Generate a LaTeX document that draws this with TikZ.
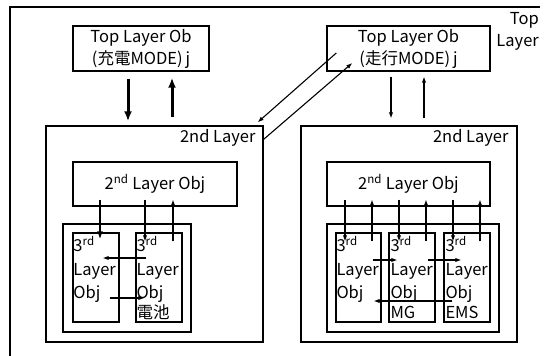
\documentclass[tikz,border=0pt]{standalone}
\usepackage{fontspec}
\setmainfont{Noto Sans CJK JP}
\usetikzlibrary{arrows.meta, positioning, calc}

\tikzset{
  txt/.style={font=\fontsize{16.5}{22}\selectfont, inner sep=0pt},
  topbox/.style={draw, line width=1.4pt, align=center, txt},
  layerbox/.style={draw, line width=1.4pt},
  objbox/.style={draw, line width=1.3pt, txt},
  holder/.style={draw, line width=2.2pt},
  thirdbox/.style={draw, line width=1.4pt, minimum height=89, inner sep=0pt},
  thirdlbl/.style={txt, font=\fontsize{16.5}{23.5}\selectfont, align=left, anchor=north west},
  arr/.style={-{Latex[length=6pt, width=4.5pt]}, line width=1.1pt},
  bigarr/.style={-{Latex[length=10pt, width=8pt]}, line width=3pt},
  midarr/.style={-{Latex[length=8pt, width=6pt]}, line width=2.2pt},
}

\begin{document}
\begin{tikzpicture}[x=1pt, y=-1pt]
\useasboundingbox (0,0) rectangle (550,356);

% outer frame (top and left side only)
\draw[line width=1.4pt] (10,356) -- (10,7) -- (540,7);
\node[txt, align=right, anchor=north east] (toplbl) at (539,12) {Top\\Layer};

% top layer objects
\node[topbox, minimum width=136, minimum height=45] (top1) at (141,48.5) {Top Layer Ob\\(充電MODE)\,j};
\node[topbox, minimum width=163, minimum height=45] (top2) at (408.5,48.5) {Top Layer Ob\\(走行MODE)\,j};

% 2nd layers
\node[layerbox, minimum width=217, minimum height=216] (sec1) at (154.5,234) {};
\node[layerbox, minimum width=216, minimum height=216] (sec2) at (409,234) {};
\node[txt, anchor=north east] (sec1lbl) at ([shift={(-8,4)}]sec1.north east) {2nd Layer};
\node[txt, anchor=north east] (sec2lbl) at ([shift={(-9,4)}]sec2.north east) {2nd Layer};

\node[objbox, minimum width=164, minimum height=44] (obj1) at (155,184) {2\textsuperscript{nd} Layer Obj};
\node[objbox, minimum width=163, minimum height=44] (obj2) at (408.5,184) {2\textsuperscript{nd} Layer Obj};

% 3rd layer holders
\node[holder, minimum width=128, minimum height=108] (hold1) at (127,278) {};
\node[holder, minimum width=172, minimum height=108] (hold2) at (413,278) {};

\node[thirdbox, minimum width=46] (A) at (96,277.5) {};
\node[thirdbox, minimum width=46] (B) at (159,277.5) {};
\node[thirdbox, minimum width=45] (C) at (358.5,277.5) {};
\node[thirdbox, minimum width=46] (D) at (412,277.5) {};
\node[thirdbox, minimum width=46] (E) at (467,277.5) {};

\node[thirdlbl] (Albl) at ([shift={(1,4)}]A.north west) {3\textsuperscript{rd}\\Layer\\Obj};
\node[thirdlbl] (Blbl) at ([shift={(1,4)}]B.north west) {3\textsuperscript{rd}\\Layer\\Obj\\[-4pt]電池};
\node[thirdlbl] (Clbl) at ([shift={(1,4)}]C.north west) {3\textsuperscript{rd}\\Layer\\Obj};
\node[thirdlbl] (Dlbl) at ([shift={(2,4)}]D.north west) {3\textsuperscript{rd}\\Layer\\Obj\\[-4pt]MG};
\node[thirdlbl] (Elbl) at ([shift={(2,4)}]E.north west) {3\textsuperscript{rd}\\Layer\\Obj\\[-4pt]EMS};

% top <-> 2nd layer
\draw[bigarr, shorten <=7pt, shorten >=4pt] ([xshift=-13]top1.south) -- ([xshift=-26.5]sec1.north);
\draw[bigarr, shorten <=8pt, shorten >=6pt] ([xshift=17.5]sec1.north) -- ([xshift=31]top1.south);
\draw[arr, shorten <=5pt, shorten >=7pt] ([xshift=-17.5]top2.south) -- ([xshift=-18]sec2.north);
\draw[arr, shorten <=7pt, shorten >=5pt] ([xshift=15]sec2.north) -- ([xshift=15.5]top2.south);
\draw[arr] ([shift={(10,4.5)}]top2.west) -- ([shift={(-6,-3)}]sec1.north east);
\draw[arr] ([shift={(0,14)}]sec1.north east) -- ([shift={(26,14.5)}]top2.west);

% 2nd obj <-> 3rd obj, left
\draw[midarr] ([shift={(-55,-7)}]obj1.south) -- ([shift={(4,7)}]A.north);
\draw[arr] ([shift={(-10,-7)}]obj1.south) -- ([shift={(-14,9)}]B.north);
\draw[arr] ([shift={(14,9)}]B.north) -- ([shift={(18,-7)}]obj1.south);
\draw[arr] ([shift={(11,-19.5)}]B.west) -- ([shift={(-17,-19.5)}]A.east);
\draw[arr] ([shift={(-10,20.5)}]A.east) -- ([shift={(9,20.5)}]B.west);

% 2nd obj <-> 3rd obj, right
\draw[arr] ([shift={(-63.5,-7)}]obj2.south) -- ([shift={(-13.5,9)}]C.north);
\draw[arr] ([shift={(13.5,9)}]C.north) -- ([shift={(-36.5,-7)}]obj2.south);
\draw[arr] ([shift={(-9.5,-7)}]obj2.south) -- ([shift={(-13,9)}]D.north);
\draw[arr] ([shift={(14,9)}]D.north) -- ([shift={(17.5,-7)}]obj2.south);
\draw[arr] ([shift={(44.5,-7)}]obj2.south) -- ([shift={(-14,9)}]E.north);
\draw[arr] ([shift={(13,9)}]E.north) -- ([shift={(71.5,-7)}]obj2.south);
\draw[arr] ([shift={(-9,-17.5)}]C.east) -- ([shift={(9,-17.5)}]D.west);
\draw[arr] ([shift={(-8,-17.5)}]D.east) -- ([shift={(18,-17.5)}]E.west);
\draw[arr] ([shift={(9,23.5)}]E.west) -- ([shift={(-8,23.5)}]C.east);
\end{tikzpicture}
\end{document}
